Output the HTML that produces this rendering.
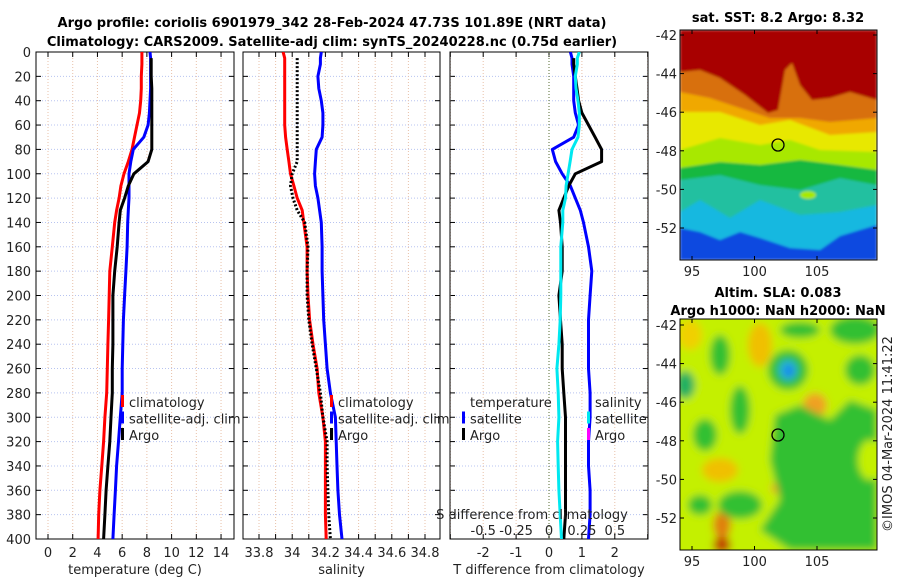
<!DOCTYPE html>
<html><head><meta charset="utf-8"><style>
html,body{margin:0;padding:0;background:#fff;}
svg{display:block;font-family:"DejaVu Sans","Liberation Sans",sans-serif;}
</style></head><body>
<svg id="chart" width="900" height="580" viewBox="0 0 900 580">
<defs>
<clipPath id="c1"><rect x="36" y="52" width="198" height="487"/></clipPath>
<clipPath id="c2"><rect x="243" y="52" width="197" height="487"/></clipPath>
<clipPath id="c3"><rect x="450" y="52" width="198" height="487"/></clipPath>
<clipPath id="cm1"><rect x="680" y="30" width="197" height="230"/></clipPath>
<clipPath id="cm2"><rect x="680" y="319" width="197" height="231"/></clipPath>
<filter id="bl" x="-10%" y="-10%" width="120%" height="120%"><feGaussianBlur stdDeviation="4"/></filter>
<filter id="bl2"><feGaussianBlur stdDeviation="1.2"/></filter>
</defs>
<text x="332" y="27" text-anchor="middle" font-weight="bold" font-size="13">Argo profile: coriolis 6901979_342 28-Feb-2024 47.73S 101.89E (NRT data)</text>
<text x="332" y="46" text-anchor="middle" font-weight="bold" font-size="13">Climatology: CARS2009. Satellite-adj clim: synTS_20240228.nc (0.75d earlier)</text>
<g id="p1"></g>
<g id="p2"></g>
<g id="p3"></g>

<g>
<text x="778" y="22" text-anchor="middle" font-weight="bold" font-size="13">sat. SST: 8.2 Argo: 8.32</text>
<g clip-path="url(#cm1)" filter="url(#bl2)">
<rect x="680" y="30" width="197" height="230" fill="#1048e0"/>
<polygon fill="#18b8e0" points="680,30 877,30 877,225 860,230 840,236 820,250 790,248 760,238 740,232 720,240 700,232 680,228"/>
<polygon fill="#20c0a0" points="680,30 877,30 877,205 840,212 800,215 760,200 730,218 700,200 680,212"/>
<polygon fill="#18b840" points="680,30 877,30 877,185 840,178 800,190 760,185 720,175 680,180"/>
<polygon fill="#a8e800" points="680,30 877,30 877,170 840,165 800,160 760,165 720,162 680,168"/>
<polygon fill="#e8e800" points="680,30 877,30 877,152 820,150 790,140 760,145 720,138 680,150"/>
<polygon fill="#f0a800" points="680,30 877,30 877,132 830,135 790,120 760,125 720,112 680,112"/>
<polygon fill="#d87010" points="680,30 877,30 877,118 830,122 800,118 770,118 740,108 710,98 680,92"/>
<polygon fill="#a80000" points="680,30 877,30 877,100 850,92 830,98 812,100 800,85 792,63 785,70 778,110 768,113 745,95 720,78 700,70 680,72"/>
<ellipse cx="808" cy="195" rx="8" ry="4" fill="#a8e800"/>
</g>
<rect x="680" y="30" width="197" height="230" fill="none" stroke="#000" stroke-width="1"/>
<circle cx="778" cy="145" r="6" fill="none" stroke="#000" stroke-width="1.3"/>
</g>

<g>
<text x="778" y="297" text-anchor="middle" font-weight="bold" font-size="13">Altim. SLA: 0.083</text>
<text x="778" y="315" text-anchor="middle" font-weight="bold" font-size="13">Argo h1000: NaN h2000: NaN</text>
<g clip-path="url(#cm2)">
<g filter="url(#bl)">
<rect x="670" y="310" width="220" height="250" fill="#c4f000"/>
<ellipse cx="760" cy="345" rx="12" ry="22" fill="#f0c000"/>
<ellipse cx="690" cy="335" rx="12" ry="15" fill="#f0d000"/>
<ellipse cx="815" cy="405" rx="12" ry="12" fill="#f0a020"/>
<ellipse cx="787" cy="488" rx="16" ry="8" fill="#f0a020"/>
<ellipse cx="720" cy="470" rx="18" ry="12" fill="#f0c000"/>
<ellipse cx="722" cy="525" rx="9" ry="14" fill="#e08010"/>
<ellipse cx="722" cy="545" rx="9" ry="8" fill="#c04000"/>
<polygon fill="#30c030" points="775,415 800,405 830,420 850,400 877,410 877,550 790,550 760,530 780,500 770,460"/>
<ellipse cx="855" cy="330" rx="25" ry="14" fill="#30c030"/>
<ellipse cx="800" cy="330" rx="20" ry="8" fill="#30c030"/>
<ellipse cx="720" cy="355" rx="10" ry="20" fill="#30c030"/>
<ellipse cx="788" cy="370" rx="20" ry="20" fill="#30c030"/>
<ellipse cx="685" cy="385" rx="10" ry="14" fill="#20b060"/>
<ellipse cx="740" cy="410" rx="10" ry="24" fill="#30c030"/>
<ellipse cx="705" cy="435" rx="12" ry="16" fill="#30c030"/>
<ellipse cx="740" cy="505" rx="22" ry="14" fill="#30c030"/>
<ellipse cx="700" cy="505" rx="12" ry="10" fill="#30c030"/>
<ellipse cx="860" cy="370" rx="15" ry="15" fill="#30c030"/>
<ellipse cx="870" cy="460" rx="12" ry="20" fill="#c4f000"/>
<ellipse cx="788" cy="370" rx="9" ry="10" fill="#20b0e0"/>
<ellipse cx="789" cy="371" rx="4" ry="5" fill="#1070f0"/>
</g></g>
<rect x="680" y="319" width="197" height="231" fill="none" stroke="#000" stroke-width="1"/>
<circle cx="778" cy="435" r="6" fill="none" stroke="#000" stroke-width="1.3"/>
<text transform="translate(892,434) rotate(-90)" text-anchor="middle" font-size="13" fill="#222">©IMOS 04-Mar-2024 11:41:22</text>
</g>
<g id="mapaxes"></g>
</svg>
<script>
const depths=[0,5,10,20,30,40,50,60,70,80,90,100,110,120,130,140,160,180,200,220,240,260,280,300,320,340,360,380,400];
const tempClim=[7.6,7.6,7.6,7.55,7.55,7.5,7.4,7.2,7.0,6.8,6.5,6.15,5.9,5.75,5.55,5.4,5.2,5.0,4.95,4.9,4.85,4.8,4.75,4.6,4.5,4.35,4.2,4.1,4.05];
const tempSat=[8.25,8.3,8.3,8.3,8.3,8.25,8.2,8.1,7.75,6.9,6.7,6.55,6.55,6.55,6.5,6.45,6.4,6.3,6.2,6.1,6.05,6.0,6.0,5.85,5.7,5.55,5.45,5.35,5.25];
const tempArgo=[null,8.35,8.35,8.35,8.4,8.4,8.4,8.4,8.4,8.4,8.1,6.95,6.5,6.2,5.85,5.75,5.6,5.4,5.25,5.25,5.25,5.2,5.2,5.1,5.0,4.85,4.7,4.6,4.5];
const salClim=[33.945,33.955,33.955,33.955,33.955,33.955,33.955,33.955,33.96,33.97,33.98,33.99,34.01,34.03,34.06,34.07,34.09,34.09,34.095,34.105,34.125,34.15,34.16,34.185,34.2,34.2,34.2,34.2,34.205];
const salSat=[34.175,34.17,34.17,34.155,34.16,34.175,34.185,34.185,34.18,34.145,34.14,34.135,34.14,34.155,34.165,34.175,34.18,34.18,34.185,34.19,34.2,34.21,34.23,34.26,34.265,34.27,34.275,34.285,34.3];
const salArgo=[null,34.03,34.03,34.03,34.03,34.03,34.03,34.03,34.03,34.03,34.03,34.0,33.99,34.005,34.03,34.075,34.095,34.09,34.09,34.1,34.12,34.145,34.17,34.185,34.21,34.21,34.215,34.22,34.23];
const depthTicks=[0,20,40,60,80,100,120,140,160,180,200,220,240,260,280,300,320,340,360,380,400];
const tempTicks=[0,2,4,6,8,10,12,14];
const salTicks=[33.8,33.9,34,34.1,34.2,34.3,34.4,34.5,34.6,34.7,34.8];
const salTickLabels=["33.8","","34","","34.2","","34.4","","34.6","","34.8"];
const dTTicks=[-3,-2,-1,0,1,2,3];
const dTTickLabels=["","-2","-1","0","1","2",""];
const dSTicks=[-0.5,-0.25,0,0.25,0.5];
const dSTickLabels=["-0.5","-0.25","0","0.25","0.5"];
const latTicks=[-42,-44,-46,-48,-50,-52];
const lonTicks=[95,100,105];

const NS='http://www.w3.org/2000/svg';
function mk(tag,attrs,parent){const e=document.createElementNS(NS,tag);for(const k in attrs)e.setAttribute(k,attrs[k]);parent.appendChild(e);return e;}
const yD=d=>52+d*(487/400);
const xT=t=>48+t*12.36;
const xS=s=>259+(s-33.8)*166;
const xDT=v=>549+v*32.9;
const xDS=v=>xDT(v*4);

function frame(g,x0,x1,clip,vticks,xf,labels,xlabel,leftLabels){
  for(const d of depthTicks){
    const y=yD(d);
    const gl=mk('line',{x1:x0,x2:x1,y1:y,y2:y,stroke:'#b8c4f0','stroke-width':1,'stroke-dasharray':'1,2'},g);
    
    mk('line',{x1:x0,x2:x0+5,y1:y,y2:y,stroke:'#000'},g);
    mk('line',{x1:x1-5,x2:x1,y1:y,y2:y,stroke:'#000'},g);
    if(leftLabels){const t=mk('text',{x:31,y:y+5,'text-anchor':'end','font-size':13,fill:'#222'},g);t.textContent=d;
      }
  }
  vticks.forEach((v,i)=>{
    const x=xf(v);
    const gl=mk('line',{x1:x,x2:x,y1:52,y2:539,stroke:'#e8c0a8','stroke-width':1,'stroke-dasharray':'1,2'},g);
    
    mk('line',{x1:x,x2:x,y1:52,y2:57,stroke:'#000'},g);
    mk('line',{x1:x,x2:x,y1:534,y2:539,stroke:'#000'},g);
    if(labels[i]!==''){const t=mk('text',{x:x,y:557,'text-anchor':'middle','font-size':13,fill:'#222'},g);t.textContent=labels[i];
      }
  });
  const r=mk('rect',{x:x0,y:52,width:x1-x0,height:487,fill:'none',stroke:'#000','stroke-width':1},g);
  
  const t=mk('text',{x:(x0+x1)/2,y:574,'text-anchor':'middle','font-size':13,fill:'#222'},g);t.textContent=xlabel;
  
}
function line(g,clip,vals,xf,color,name,dash,w){
  let d='';let pen=false;
  vals.forEach((v,i)=>{if(v===null){pen=false;return;}d+=(pen?'L':'M')+xf(v).toFixed(1)+','+yD(depths[i]).toFixed(1);pen=true;});
  const p=mk('path',{d:d,fill:'none',stroke:color,'stroke-width':w||3,'clip-path':'url(#'+clip+')','stroke-linejoin':'round'},g);
  if(dash)p.setAttribute('stroke-dasharray',dash);
  
  
}
function legend(g,x,items){
  items.forEach((it,i)=>{
    const y=402+i*16.5;
    if(it.c){const m=mk('rect',{x:x,y:y-7,width:3,height:12,fill:it.c},g);}
    const t=mk('text',{x:x+8,y:y+5,'font-size':13,fill:'#222'},g);t.textContent=it.t;
    
  });
}
const p1=document.getElementById('p1'),p2=document.getElementById('p2'),p3=document.getElementById('p3');
frame(p1,36,234,'c1',tempTicks,xT,tempTicks.map(String),'temperature (deg C)',true);
line(p1,'c1',tempClim,xT,'#f00','temp-climatology-line');
line(p1,'c1',tempSat,xT,'#00f','temp-satellite-line');
line(p1,'c1',tempArgo,xT,'#000','temp-argo-line');
legend(p1,121,[{c:'#f00',t:'climatology'},{c:'#00f',t:'satellite-adj. clim'},{c:'#000',t:'Argo'}]);

frame(p2,243,440,'c2',salTicks,xS,salTickLabels,'salinity',false);
line(p2,'c2',salClim,xS,'#f00','sal-climatology-line');
line(p2,'c2',salSat,xS,'#00f','sal-satellite-line');
line(p2,'c2',salArgo,xS,'#000','sal-argo-line','2,2');
legend(p2,330,[{c:'#f00',t:'climatology'},{c:'#00f',t:'satellite-adj. clim'},{c:'#000',t:'Argo'}]);

frame(p3,450,648,'c3',dTTicks,xDT,dTTickLabels,'T difference from climatology',false);
const z=mk('line',{x1:549,x2:549,y1:52,y2:539,stroke:'#556b2f','stroke-dasharray':'1,2'},p3);

const dTsat=tempSat.map((v,i)=>v-tempClim[i]);
const dTargo=tempArgo.map((v,i)=>v===null?null:v-tempClim[i]);
const dSsat=salSat.map((v,i)=>v-salClim[i]);
line(p3,'c3',dTsat,xDT,'#00f','tdiff-satellite-line');
line(p3,'c3',dTargo,xDT,'#000','tdiff-argo-line');
line(p3,'c3',dSsat,xDS,'#00e8f0','sdiff-satellite-line');
legend(p3,462,[{t:'temperature'},{c:'#00f',t:'satellite'},{c:'#000',t:'Argo'}]);
legend(p3,587,[{t:'salinity'},{c:'#00e8f0',t:'satellite'},{c:'#f0f',t:'Argo'}]);
{const t=mk('text',{x:532,y:519,'text-anchor':'middle','font-size':13,fill:'#222'},p3);t.textContent='S difference from climatology';
}
dSTicks.forEach((v,i)=>{const t=mk('text',{x:xDS(v),y:535,'text-anchor':'middle','font-size':13,fill:'#222'},p3);t.textContent=dSTickLabels[i];
});

const ma=document.getElementById('mapaxes');
const lonX=l=>692+(l-95)*12.5;
[[35,30,260],[325,319,550]].forEach(([y42,top,bot])=>{
  latTicks.forEach(l=>{const y=y42+(-42-l)*19.3;
    mk('line',{x1:680,x2:684,y1:y,y2:y,stroke:'#000'},ma);mk('line',{x1:873,x2:877,y1:y,y2:y,stroke:'#000'},ma);
    const t=mk('text',{x:677,y:y+5,'text-anchor':'end','font-size':13,fill:'#222'},ma);t.textContent=l;
    });
  lonTicks.forEach(l=>{const x=lonX(l);
    mk('line',{x1:x,x2:x,y1:bot-4,y2:bot,stroke:'#000'},ma);mk('line',{x1:x,x2:x,y1:top,y2:top+4,stroke:'#000'},ma);
    const t=mk('text',{x:x,y:bot+16,'text-anchor':'middle','font-size':13,fill:'#222'},ma);t.textContent=l;
    });
});
</script>
</body></html>
